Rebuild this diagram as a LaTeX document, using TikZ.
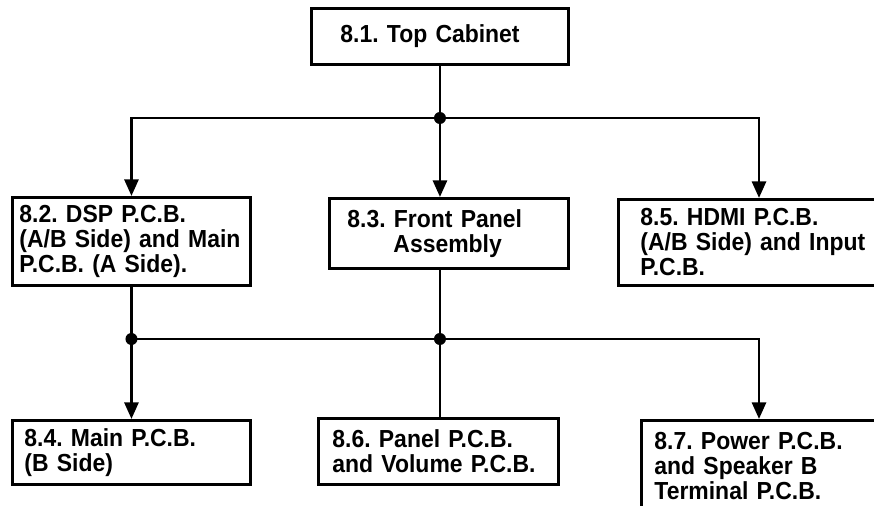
\documentclass[tikz,border=0pt]{standalone}
\usepackage{fontspec}
\setmainfont{Liberation Sans}[FakeStretch=0.93]
\usetikzlibrary{arrows.meta}
\frenchspacing

\begin{document}
\begin{tikzpicture}[x=0.75pt, y=-0.75pt, line width=2.2pt,
  caja/.style={draw, anchor=north west, align=left, inner ysep=0pt,
    font=\fontsize{18.5pt}{18.75pt}\selectfont\bfseries},
  flecha/.style={-{Triangle[length=12.5pt,width=10.5pt]}},
  punto/.style={circle, fill, inner sep=0pt, minimum size=9pt}]
  \useasboundingbox (0,0) rectangle (874,506);
  \clip (0,0) rectangle (874,506);
  % arriba
  \node[caja, inner xsep=21.75pt, text width=149.25pt, minimum height=42pt] (t81) at (310,7) {8.1. Top Cabinet};
  % la fila del medio
  \node[caja, inner xsep=5.25pt, text width=168pt, minimum height=66pt] (b82) at (11,196)
    {8.2. DSP P.C.B.\\(A/B Side) and Main\\P.C.B. (A Side).};
  \node[caja, inner xsep=13.5pt, text width=152.25pt, minimum height=52.5pt] (b83) at (328,197)
    {8.3. Front Panel\\\hspace*{34.5pt}Assembly};
  \node[caja, inner xsep=16.5pt, text width=179.25pt, minimum height=64.5pt] (b85) at (617,198)
    {8.5. HDMI P.C.B.\\(A/B Side) and Input\\P.C.B.};
  % la fila de abajo
  \node[caja, inner xsep=9pt, text width=160.5pt, minimum height=48pt] (b84) at (11,419)
    {8.4. Main P.C.B.\\(B Side)};
  \node[caja, inner xsep=10.5pt, text width=159pt, minimum height=49.5pt] (b86) at (317,417)
    {8.6. Panel P.C.B.\\and Volume P.C.B.};
  \node[caja, inner xsep=9.75pt, text width=190.5pt, minimum height=68.25pt] (b87) at (640,419)
    {8.7. Power P.C.B.\\and Speaker B\\Terminal P.C.B.};
  % los cruces
  \coordinate (j1) at (t81.south |- 0,118);
  \coordinate (k85) at (759,118);
  \coordinate (j2) at (j1 |- 0,339);
  \coordinate (j3) at (b82.south |- 0,339);
  \coordinate (k87) at (759,339);
  % las lineas de arriba
  \draw (t81.south) -- (j1);
  \draw[flecha] (j1) -| (b82.north);
  \draw[flecha] (j1) -- (j1 |- b83.north);
  \draw[flecha] (j1) -- (k85) -- (k85 |- b85.north);
  % las lineas de abajo
  \draw (j1 |- b83.south) -- (j2);
  \draw (b82.south) -- (j3);
  \draw[flecha] (j3) -- (b84.north);
  \draw (j2) -- (j2 |- b86.north);
  \draw[flecha] (j3) -- (k87) -- (k87 |- b87.north);
  % los puntos
  \node[punto] (p1) at (j1) {};
  \node[punto] (p2) at (j2) {};
  \node[punto] (p3) at (j3) {};
\end{tikzpicture}
\end{document}
